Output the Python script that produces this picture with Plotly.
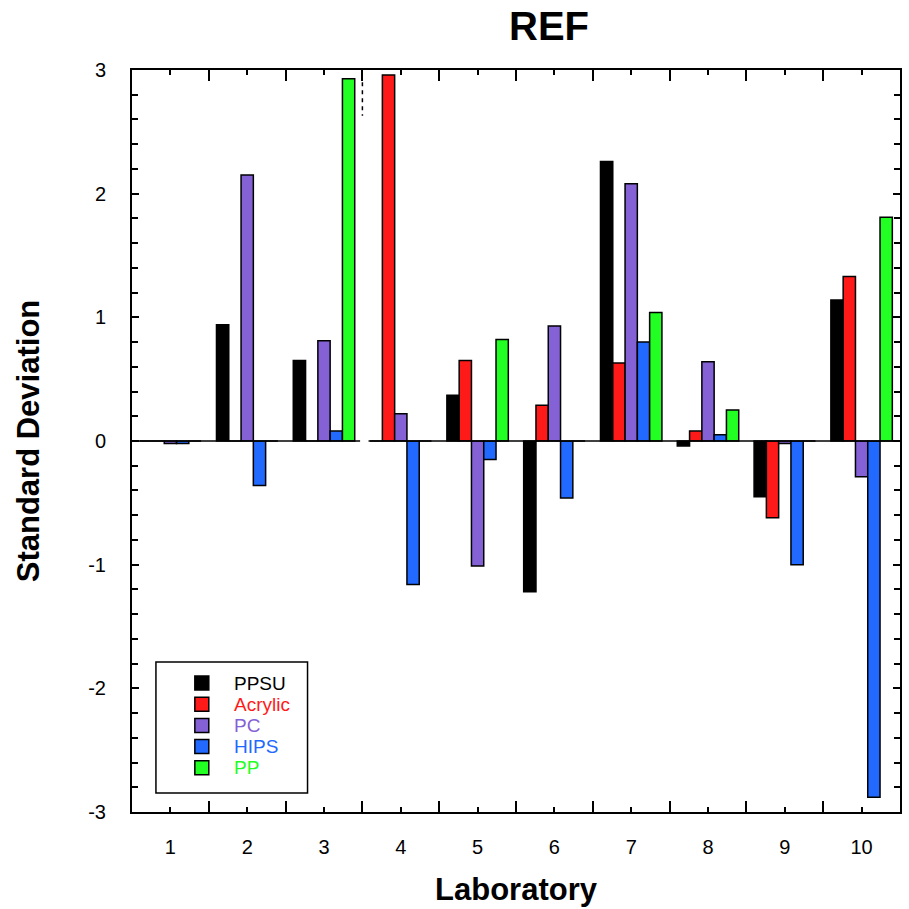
import plotly.graph_objects as go

# Laboratory numbers (x categories)
labs = [1, 2, 3, 4, 5, 6, 7, 8, 9, 10]

# Standard deviation per material for each laboratory
ppsu    = [0.00, 0.94, 0.65, 0.00, 0.37, -1.22, 2.26, -0.04, -0.45, 1.14]
acrylic = [0.00, 0.00, 0.00, 2.96, 0.65, 0.29, 0.63, 0.08, -0.62, 1.33]
pc      = [-0.02, 2.15, 0.81, 0.22, -1.01, 0.93, 2.08, 0.64, -0.02, -0.29]
hips    = [-0.02, -0.36, 0.08, -1.16, -0.15, -0.46, 0.80, 0.05, -1.00, -2.88]
pp      = [0.00, 0.00, 2.93, 0.00, 0.82, 0.00, 1.04, 0.25, 0.00, 1.81]

# y tick values and their labels (plain hyphen for negatives)
y_ticks = [-3, -2, -1, 0, 1, 2, 3]
y_tick_text = ["-3", "-2", "-1", "0", "1", "2", "3"]

series = [
    ("PPSU", ppsu, "#000000"),
    ("Acrylic", acrylic, "#ff1a1a"),
    ("PC", pc, "#8561d6"),
    ("HIPS", hips, "#2169ff"),
    ("PP", pp, "#22ff22"),
]

FONT = "Liberation Sans, Arial, Helvetica, sans-serif"
W = H = 909
M_L, M_R, M_T, M_B = 132, 7, 70, 97
PLOT_W = W - M_L - M_R
PLOT_H = H - M_T - M_B


def px_to_paper(px, py):
    """Convert page pixel position to paper coordinates."""
    return (px - M_L) / PLOT_W, (H - M_B - py) / PLOT_H


fig = go.Figure()
for name, vals, color in series:
    fig.add_trace(go.Bar(
        x=labs, y=vals, name=name, showlegend=False,
        marker=dict(color=color, line=dict(color="black", width=1.5)),
    ))

# baseline at zero, broken between laboratories 3 and 4
fig.add_shape(type="line", xref="x", yref="y", x0=0.5, x1=3.47, y0=0, y1=0,
              line=dict(color="black", width=1.5), layer="above")
fig.add_shape(type="line", xref="x", yref="y", x0=3.58, x1=10.5, y0=0, y1=0,
              line=dict(color="black", width=1.5), layer="above")
# short dashed divider below the top axis
fig.add_shape(type="line", xref="x", yref="y", x0=3.5, x1=3.5, y0=2.9, y1=2.63,
              line=dict(color="black", width=1.5, dash="4px,4px"), layer="above")

# legend box with colour swatches and coloured names
bx0, by0 = px_to_paper(156, 793)
bx1, by1 = px_to_paper(308, 662)
fig.add_shape(type="rect", xref="paper", yref="paper", x0=bx0, y0=by0, x1=bx1, y1=by1,
              line=dict(color="black", width=1.5), fillcolor="white", layer="above")
row_top, row_step, sw = 683, 21.2, 14
for i, (name, _, color) in enumerate(series):
    cy = row_top + i * row_step
    sx0, sy0 = px_to_paper(202 - sw / 2, cy + sw / 2)
    sx1, sy1 = px_to_paper(202 + sw / 2, cy - sw / 2)
    fig.add_shape(type="rect", xref="paper", yref="paper",
                  x0=sx0, y0=sy0, x1=sx1, y1=sy1,
                  line=dict(color="black", width=1.5), fillcolor=color, layer="above")
    tx, ty = px_to_paper(232, cy)
    fig.add_annotation(xref="paper", yref="paper", x=tx, y=ty, text=name,
                       showarrow=False, xanchor="left", yanchor="middle",
                       font=dict(family=FONT, size=19, color=color))

fig.update_layout(
    width=W, height=H,
    paper_bgcolor="white", plot_bgcolor="white",
    margin=dict(l=M_L, r=M_R, t=M_T, b=M_B),
    barmode="group", bargap=0.2, bargroupgap=0,
    font=dict(family=FONT, size=20, color="black"),
    showlegend=False,
    title=dict(text="REF", x=0.543, xref="paper", y=0.971, yref="container",
               xanchor="center", yanchor="middle",
               font=dict(family=FONT, size=40, weight="bold")),
    xaxis=dict(
        range=[0.5, 10.5], tickvals=labs, ticktext=[str(v) for v in labs],
        tickfont=dict(size=20),
        ticks="inside", ticklen=5, tickwidth=1.5, tickcolor="black",
        minor=dict(tick0=0.5, dtick=1, ticks="inside", ticklen=11,
                   tickwidth=1.5, tickcolor="black"),
        showline=True, linecolor="black", linewidth=2, mirror="allticks",
        showgrid=False, zeroline=False, ticklabelstandoff=16,
        title=dict(text="Laboratory", standoff=21,
                   font=dict(family=FONT, size=31, weight="bold")),
    ),
    yaxis=dict(
        range=[-3, 3], tickvals=y_ticks, ticktext=y_tick_text,
        tickfont=dict(size=20),
        ticks="inside", ticklen=7, tickwidth=1.5, tickcolor="black",
        minor=dict(dtick=0.2, ticks="inside", ticklen=6,
                   tickwidth=1.5, tickcolor="black"),
        showline=True, linecolor="black", linewidth=2, mirror="allticks",
        showgrid=False, zeroline=False, ticklabelstandoff=20,
        title=dict(text="Standard Deviation", standoff=39,
                   font=dict(family=FONT, size=31, weight="bold")),
    ),
)

fig.write_html("out.html")
